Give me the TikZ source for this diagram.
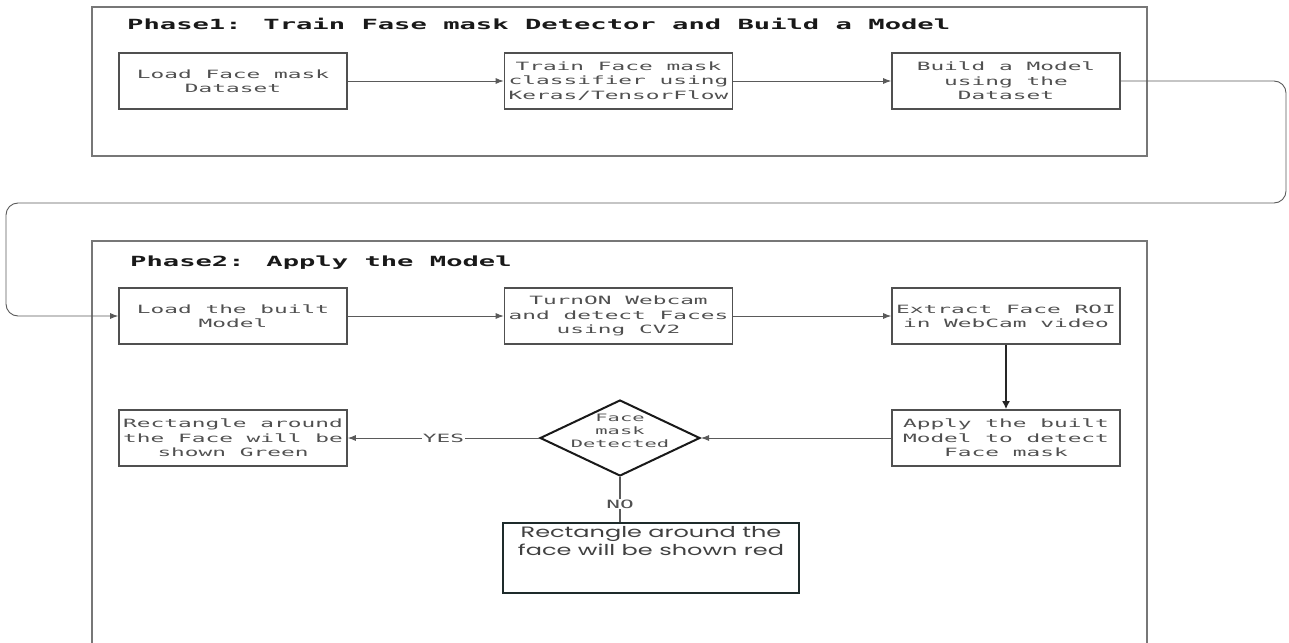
\documentclass[tikz,border=0pt]{standalone}
\usepackage{fontspec}
\usetikzlibrary{arrows.meta,shapes.geometric}
\newfontfamily\monof[FakeStretch=2.0]{DejaVu Sans Mono}
\newfontfamily\monot[FakeStretch=1.94]{DejaVu Sans Mono}
\newfontfamily\gothic[FakeStretch=1.6]{Poppins}
\definecolor{txtgray}{HTML}{505050}
\definecolor{boxgray}{HTML}{505050}
\definecolor{framegray}{HTML}{777777}
\definecolor{linegray}{HTML}{5A5A5A}
\definecolor{darkbox}{HTML}{1E2B2B}
\tikzset{
  stepbox/.style={draw=boxgray, line width=1.6pt, minimum width=228pt, minimum height=56pt,
    inner sep=0pt, align=center, text=txtgray, font=\monof\fontsize{11.4}{14.3}\selectfont},
  frameline/.style={draw=framegray, line width=2pt},
  conn/.style={draw=linegray, line width=0.9pt, -{Latex[length=8pt,width=6pt]}},
  thickconn/.style={draw=black!85, line width=1.8pt, -{Latex[length=8pt,width=8pt]}},
  phasetitle/.style={anchor=base west, inner sep=0pt, text=black!90, font=\monot\bfseries\fontsize{14}{17}\selectfont},
  decision/.style={diamond, draw=black!90, line width=2pt, minimum width=160pt, minimum height=76pt, inner sep=0pt},
  lbl/.style={fill=white, inner sep=1pt, text=txtgray, font=\monof\fontsize{11.4}{14}\selectfont},
  redbox/.style={draw=darkbox, line width=1.8pt, minimum width=296pt, minimum height=70pt, inner sep=3pt, text=txtgray!80!black}
}
\begin{document}
\begin{tikzpicture}[x=1pt,y=-1pt]
\useasboundingbox (0,0) rectangle (1289,642);
% frames
\draw[frameline] (92,7) rectangle (1147,156);
\draw[frameline] (92,660) -- (92,241) -- (1147,241) -- (1147,660);
\node[phasetitle] (t1) at (127,30) {Phase1: Train Fase mask Detector and Build a Model};
\node[phasetitle] (t2) at (130,266) {Phase2: Apply the Model};
% phase 1
\node[stepbox] (b1) at (233,81) {Load Face mask\\Dataset};
\node[stepbox] (b2) at (618.5,81) {Train Face mask\\classifier using\\Keras/TensorFlow};
\node[stepbox] (b3) at (1006,81) {Build a Model\\using the\\Dataset};
% phase 2
\node[stepbox] (b4) at (233,316) {Load the built\\Model};
\node[stepbox] (b5) at (618.5,316) {TurnON Webcam\\and detect Faces\\using CV2};
\node[stepbox] (b6) at (1006,316) {Extract Face ROI\\in WebCam video};
\node[stepbox] (b7) at (1006,438) {Apply the built\\Model to detect\\Face mask};
\node[decision, label={[align=center, inner sep=0pt, yshift=7pt, text=txtgray, font=\monof\fontsize{10.2}{13}\selectfont]center:Face\\mask\\Detected}] (d) at (620,438) {};
\node[stepbox] (b8) at (233,438) {Rectangle around\\the Face will be\\shown Green};
\node[redbox] (b9) at (651,558) {\parbox[c][64pt][t]{290pt}{\centering\gothic\fontsize{15}{18.3}\selectfont Rectangle around the\\face will be shown red}};
% connectors
\draw[conn] (b1) -- (b2);
\draw[conn] (b2) -- (b3);
\coordinate (r1) at (1286,81);
\coordinate (r2) at (1286,203);
\coordinate (l1) at (6,203);
\coordinate (l2) at (6,316);
\draw[conn, rounded corners=12pt] (b3.east) -- (r1) -- (r2) -- (l1) -- (l2) -- (b4.west);
\draw[conn] (b4) -- (b5);
\draw[conn] (b5) -- (b6);
\draw[thickconn] (b6) -- (b7);
\draw[conn] (b7) -- (d);
\draw[conn] (d) -- node[lbl] {YES} (b8);
\draw[draw=linegray, line width=1.4pt] (d.south) -- node[lbl, pos=0.6] {NO} (b9.north -| d.south);
\end{tikzpicture}
\end{document}
